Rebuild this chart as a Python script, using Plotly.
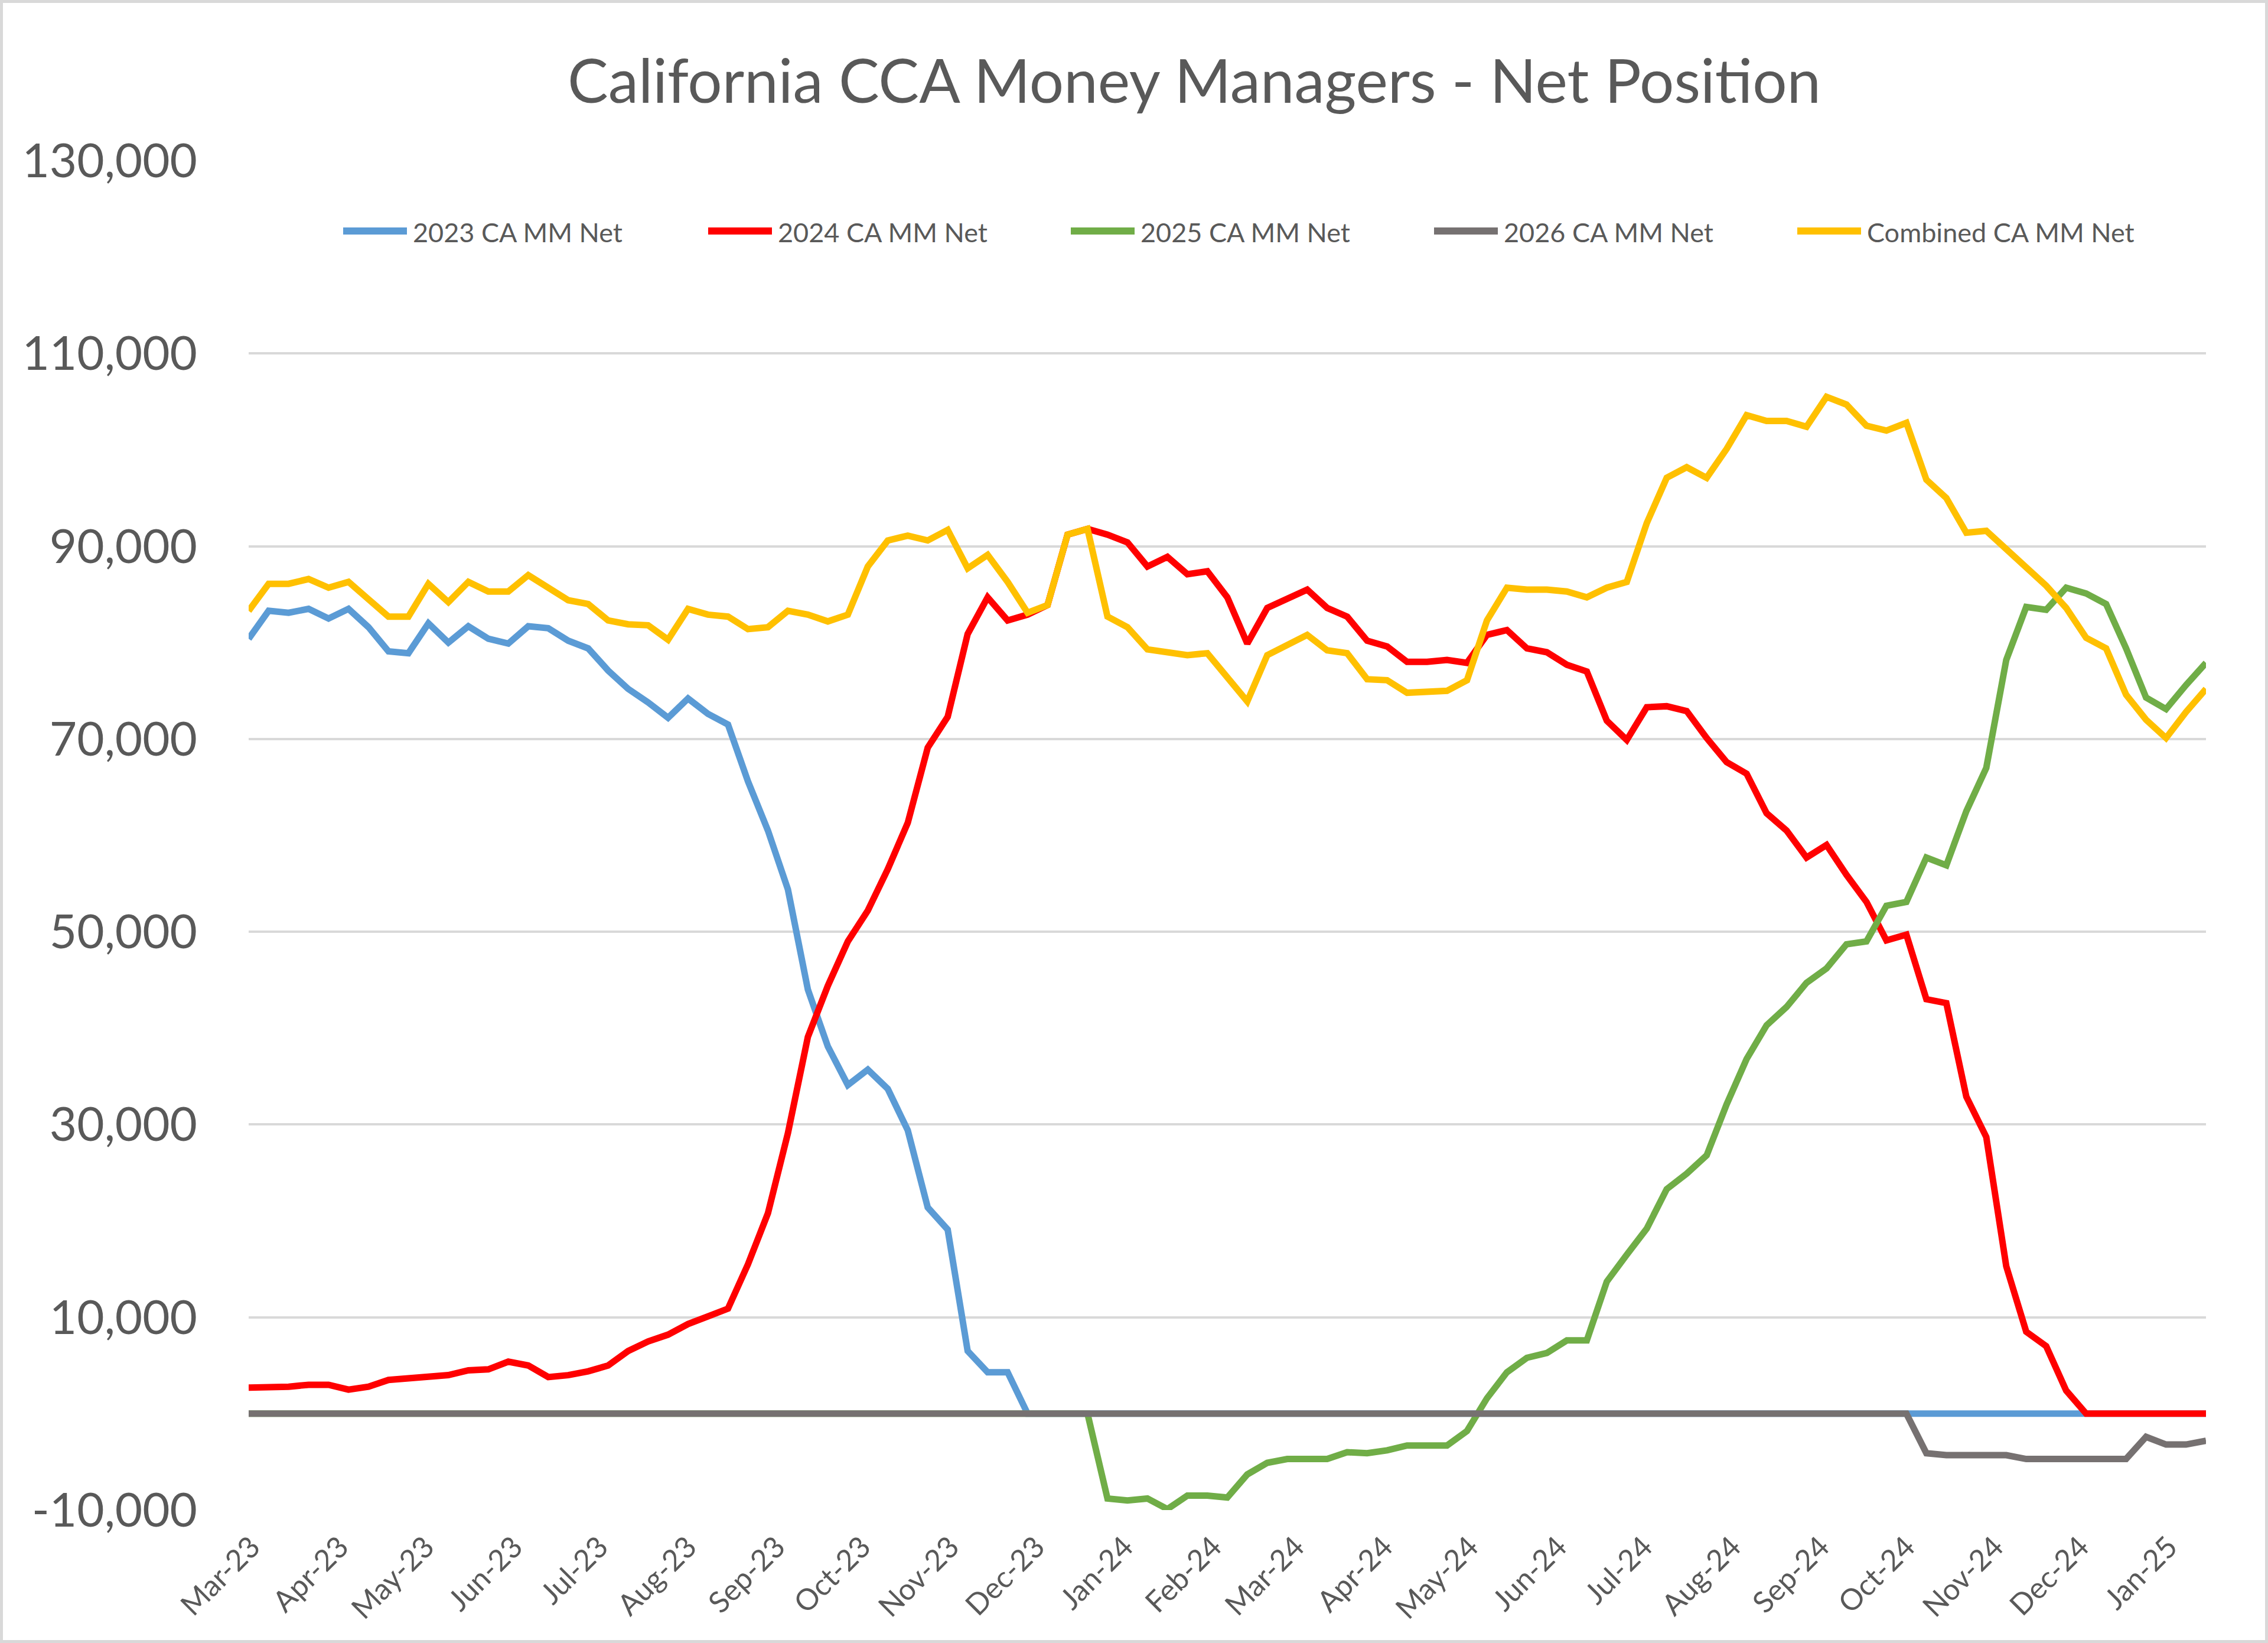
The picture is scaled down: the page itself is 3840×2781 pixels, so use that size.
import plotly.graph_objects as go
import pandas as pd

# ---------------- data ----------------
week_start = "2023-02-28"
n_weeks = 99
dates = pd.date_range(week_start, periods=n_weeks, freq="7D")

mm_2023 = [80400, 83300, 83100, 83500, 82500, 83500, 81600, 79100, 78900, 82000,
           80000, 81700, 80400, 79900, 81700, 81500, 80200, 79400, 77100, 75200,
           73800, 72200, 74200, 72600, 71500, 65600, 60500, 54400, 44000, 38100,
           34100, 35700, 33700, 29400, 21400, 19100, 6500, 4300, 4300, 0,
           0, 0, 0, 0, 0, 0, 0, 0, 0, 0,
           0, 0, 0, 0, 0, 0, 0, 0, 0, 0,
           0, 0, 0, 0, 0, 0, 0, 0, 0, 0,
           0, 0, 0, 0, 0, 0, 0, 0, 0, 0,
           0, 0, 0, 0, 0, 0, 0, 0, 0, 0,
           0, 0, 0, 0, 0, 0, 0, 0, 0]

mm_2024 = [2700, 2700, 2800, 3000, 3000, 2500, 2800, 3500, 3700, 3800,
           4000, 4500, 4600, 5400, 5000, 3800, 4000, 4400, 5000, 6500,
           7500, 8200, 9300, 10100, 10900, 15500, 20800, 29100, 39100, 44400,
           49000, 52200, 56500, 61300, 69100, 72300, 80900, 84700, 82300, 82900,
           83900, 91200, 91800, 91200, 90400, 87900, 88900, 87100, 87400, 84700,
           79900, 83600, 84500, 85500, 83600, 82700, 80200, 79600, 78000, 78000,
           78200, 77900, 80800, 81300, 79400, 79000, 77700, 77000, 71900, 69900,
           73300, 73400, 72900, 70100, 67600, 66400, 62300, 60500, 57700, 59000,
           55900, 53100, 49100, 49700, 43000, 42600, 32900, 28700, 15300, 8500,
           7000, 2400, 0, 0, 0, 0, 0, 0, 0]

mm_2025 = [0, 0, 0, 0, 0, 0, 0, 0, 0, 0,
           0, 0, 0, 0, 0, 0, 0, 0, 0, 0,
           0, 0, 0, 0, 0, 0, 0, 0, 0, 0,
           0, 0, 0, 0, 0, 0, 0, 0, 0, 0,
           0, 0, 0, -8800, -9000, -8800, -9900, -8500, -8500, -8700,
           -6300, -5100, -4700, -4700, -4700, -4000, -4100, -3800, -3300, -3300,
           -3300, -1800, 1600, 4300, 5800, 6300, 7600, 7600, 13700, 16500,
           19200, 23300, 24900, 26800, 32100, 36800, 40300, 42200, 44700, 46200,
           48700, 49000, 52700, 53100, 57700, 56900, 62500, 67000, 78200, 83700,
           83400, 85700, 85100, 84000, 79400, 74300, 73100, 75600, 77900]

mm_2026 = [0, 0, 0, 0, 0, 0, 0, 0, 0, 0,
           0, 0, 0, 0, 0, 0, 0, 0, 0, 0,
           0, 0, 0, 0, 0, 0, 0, 0, 0, 0,
           0, 0, 0, 0, 0, 0, 0, 0, 0, 0,
           0, 0, 0, 0, 0, 0, 0, 0, 0, 0,
           0, 0, 0, 0, 0, 0, 0, 0, 0, 0,
           0, 0, 0, 0, 0, 0, 0, 0, 0, 0,
           0, 0, 0, 0, 0, 0, 0, 0, 0, 0,
           0, 0, 0, 0, -4100, -4300, -4300, -4300, -4300, -4700,
           -4700, -4700, -4700, -4700, -4700, -2400, -3200, -3200, -2800]

mm_combined = [83300, 86100, 86100, 86600, 85700, 86300, 84500, 82700, 82700, 86100,
               84200, 86300, 85300, 85300, 87000, 85700, 84400, 84000, 82300, 81900,
               81800, 80300, 83500, 82900, 82700, 81400, 81600, 83300, 82900, 82200,
               82900, 87900, 90600, 91100, 90600, 91700, 87700, 89100, 86300, 83100,
               83900, 91200, 91800, 82700, 81600, 79300, 79000, 78700, 78900, 76500,
               73900, 78700, 79700, 80800, 79200, 78900, 76200, 76100, 74800, 74900,
               75000, 76100, 82300, 85700, 85500, 85500, 85300, 84700, 85700, 86300,
               92400, 97100, 98200, 97100, 100100, 103600, 103000, 103000, 102400, 105500,
               104700, 102500, 102000, 102800, 96900, 95000, 91400, 91600, 89700, 87800,
               85900, 83600, 80500, 79400, 74600, 72000, 70100, 72800, 75200]

series_names = ["2023 CA MM Net", "2024 CA MM Net", "2025 CA MM Net",
                "2026 CA MM Net", "Combined CA MM Net"]
series_values = [mm_2023, mm_2024, mm_2025, mm_2026, mm_combined]
series_colors = ["#5B9BD5", "#FF0000", "#70AD47", "#767171", "#FFC000"]

y_tick_vals = [-10000, 10000, 30000, 50000, 70000, 90000, 110000, 130000]
y_tick_text = ["-10,000", "10,000", "30,000", "50,000", "70,000", "90,000",
               "110,000", "130,000"]

title_text = "California CCA Money Managers - Net Position"

# ---------------- layout geometry (pixels) ----------------
W, H = 3840, 2781
L, R, T, B = 421, 105, 272, 225
PW, PH = W - L - R, H - T - B
FONT = "Lato, 'Open Sans', sans-serif"
TXT = "#595959"


def px_x(x):
    return (x - L) / PW


def px_y(y):
    return (H - B - y) / PH


fig = go.Figure()
for name, vals, col in zip(series_names, series_values, series_colors):
    fig.add_trace(go.Scatter(x=dates, y=vals, name=name, mode="lines",
                             line=dict(color=col, width=11),
                             showlegend=False, hoverinfo="x+y+name"))

shapes = []
annotations = []

# custom legend (long line swatches like the original)
legend_starts = [575, 1193, 1807, 2422, 3037]
legend_y = 391
for name, col, x0 in zip(series_names, series_colors, legend_starts):
    shapes.append(dict(type="line", xref="paper", yref="paper",
                       x0=px_x(x0 + 6), x1=px_x(x0 + 114),
                       y0=px_y(legend_y), y1=px_y(legend_y),
                       line=dict(color=col, width=12)))
    annotations.append(dict(xref="paper", yref="paper", x=px_x(x0 + 122),
                            y=px_y(legend_y + 2), text=name, showarrow=False,
                            xanchor="left", yanchor="middle",
                            font=dict(family=FONT, size=45, color=TXT)))

# chart-area border
shapes.append(dict(type="rect", xref="paper", yref="paper",
                   x0=px_x(2.5), x1=px_x(W - 2.5), y0=px_y(H - 2.5), y1=px_y(2.5),
                   line=dict(color="#D9D9D9", width=5), layer="below"))

fig.update_layout(
    width=W, height=H,
    margin=dict(l=L, r=R, t=T, b=B, pad=0),
    paper_bgcolor="white", plot_bgcolor="white",
    title=dict(text=title_text, x=2022 / W, xref="container", xanchor="center",
               y=1 - 138 / H, yref="container", yanchor="middle",
               font=dict(family=FONT, size=103, color=TXT)),
    shapes=shapes, annotations=annotations,
    showlegend=False,
    xaxis=dict(type="date", range=[dates[0], dates[-1]],
               tick0="2023-03-01", dtick="M1", tickformat="%b-%y",
               tickangle=-45, showgrid=False, zeroline=False, showline=False,
               ticks="", ticklabelstandoff=22,
               tickfont=dict(family=FONT, size=50, color=TXT)),
    yaxis=dict(range=[-10000, 130000], tickvals=y_tick_vals, ticktext=y_tick_text,
               showgrid=True, gridcolor="#D9D9D9", gridwidth=4,
               zeroline=False, showline=False, ticks="", ticklabelstandoff=86,
               tickfont=dict(family=FONT, size=80, color=TXT)),
)

fig.write_html("out.html",
               config={"displayModeBar": False},
               post_script="document.body.style.margin='0px';")
